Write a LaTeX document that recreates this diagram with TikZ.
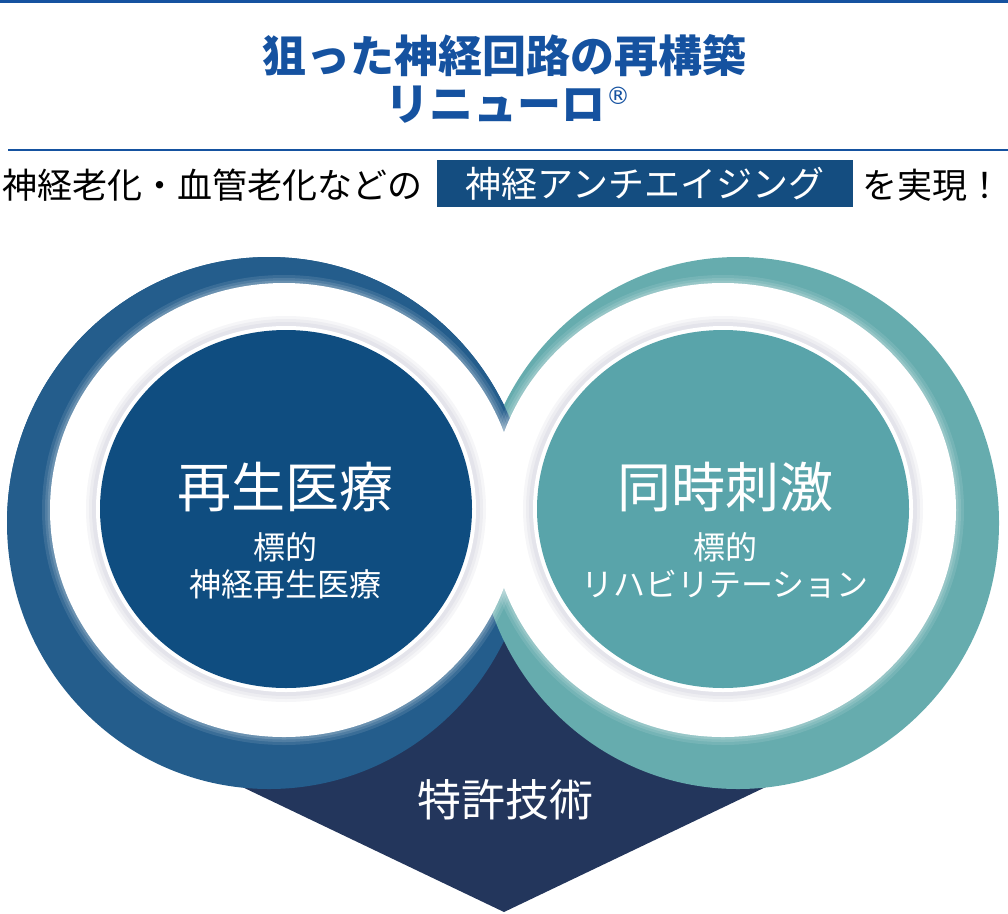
\documentclass[tikz,border=0pt]{standalone}
\usepackage{fontspec}
\newfontfamily\jp{Noto Sans CJK JP}
\newfontfamily\dvs{DejaVu Sans}
\definecolor{titleblue}{RGB}{21,82,160}
\definecolor{bannerblue}{RGB}{20,77,128}
\definecolor{lband}{RGB}{36,93,140}
\definecolor{ldisk}{RGB}{15,77,128}
\definecolor{rband}{RGB}{102,172,174}
\definecolor{rdisk}{RGB}{89,164,170}
\definecolor{navy}{RGB}{35,54,92}
\tikzset{
  titletext/.style={text=titleblue, font=\jp\bfseries\fontsize{44}{48}\selectfont, inner sep=0},
  subtext/.style={text=black, font=\jp\fontsize{35}{38}\selectfont, inner sep=0},
  bigtext/.style={text=white, font=\jp\fontsize{54}{58}\selectfont, inner sep=0},
  smalltext/.style={text=white, font=\jp\fontsize{32}{36}\selectfont, inner sep=0},
  rule/.style={titleblue, line width=2},
}
\begin{document}
\begin{tikzpicture}[x=1pt,y=-1pt]
\useasboundingbox (0,0) rectangle (1008,913);
% rules and title
\coordinate (topL) at (0,1.5);
\coordinate (topR) at (1008,1.5);
\draw[rule, line width=3] (topL) -- (topR);
\node[titletext] (title1) at (504,56) {狙った神経回路の再構築};
\node[titletext, anchor=west] (title2) at (385,105) {リニューロ};
\node[text=titleblue, inner sep=0, font=\dvs\fontsize{24}{24}\selectfont] (reg) at (618,96) {®};
\coordinate (sepL) at (8,150);
\coordinate (sepR) at (1008,150);
\draw[rule] (sepL) -- (sepR);
% subtitle row
\node[subtext, anchor=west] (sub1) at (2,185) {神経老化・血管老化などの};
\node[fill=bannerblue, minimum width=416, minimum height=47, inner sep=0,
      text=white, font=\jp\fontsize{36}{38}\selectfont] (banner) at (645,183.5) {神経アンチエイジング};
\node[subtext, anchor=east] (sub3) at (1003,185) {を実現！};
% bottom arrow shape
\fill[navy] (504,600) -- (236,784) -- (504,912) -- (772,784) -- cycle;
% outer bands
\fill[lband] (269,523) ellipse [x radius=262, y radius=266];
\fill[rband] (738,523) ellipse [x radius=261, y radius=266];
\begin{scope}
  \clip (0,0) rectangle (1008,523);
  \fill[lband] (269,523) ellipse [x radius=262, y radius=266];
\end{scope}
% soft glow at inner edge of bands
\foreach \w/\o in {16/0.10, 10/0.12, 5/0.15}{
  \draw[white, opacity=\o, line width=\w] (284,510) ellipse [x radius=234, y radius=227];
  \draw[white, opacity=\o, line width=\w] (723,510) ellipse [x radius=233, y radius=227];
}
% white holes
\fill[white] (284,510) ellipse [x radius=234, y radius=227];
\fill[white] (723,510) ellipse [x radius=233, y radius=227];
% shadows of inner disks
\foreach \d in {14,11,8}{
  \fill[black!70!blue, opacity=0.035] (286,509) ellipse [x radius=186+\d, y radius=179+\d];
  \fill[black!70!blue, opacity=0.035] (723,509) ellipse [x radius=186+\d, y radius=179+\d];
}
\fill[white] (286,509) ellipse [x radius=190, y radius=183];
\fill[white] (723,509) ellipse [x radius=190, y radius=183];
% inner disks
\fill[ldisk] (286,509) ellipse [x radius=186, y radius=179];
\fill[rdisk] (723,509) ellipse [x radius=186, y radius=179];
% disk texts
\node[bigtext] (lbig) at (285,487) {再生医療};
\node[smalltext] (lsm1) at (285,547) {標的};
\node[smalltext] (lsm2) at (285,584) {神経再生医療};
\node[bigtext] (rbig) at (725,487) {同時刺激};
\node[smalltext] (rsm1) at (725,547) {標的};
\node[smalltext] (rsm2) at (725,584) {リハビリテーション};
% bottom text
\node[text=white, inner sep=0, font=\jp\fontsize{44}{48}\selectfont] (patent) at (505,800) {特許技術};
\end{tikzpicture}
\end{document}
